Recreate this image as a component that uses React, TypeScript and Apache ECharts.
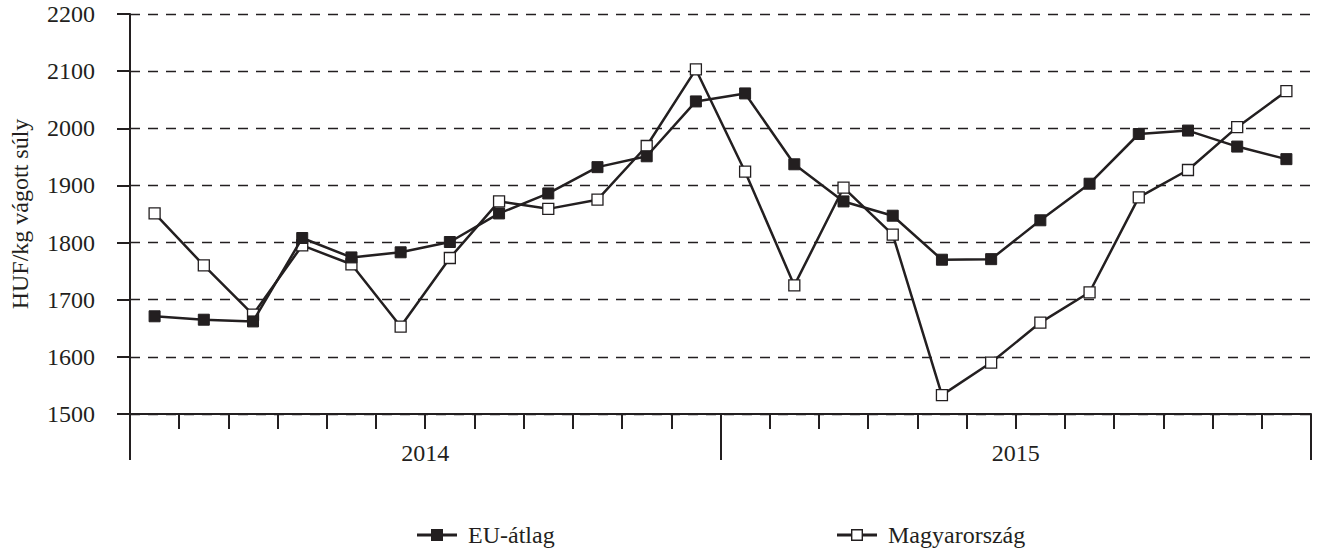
import React, { useEffect, useRef } from "react";
import * as echarts from "echarts";

const months = [
  "2014-01", "2014-02", "2014-03", "2014-04", "2014-05", "2014-06",
  "2014-07", "2014-08", "2014-09", "2014-10", "2014-11", "2014-12",
  "2015-01", "2015-02", "2015-03", "2015-04", "2015-05", "2015-06",
  "2015-07", "2015-08", "2015-09", "2015-10", "2015-11", "2015-12",
];
const years = ["2014", "2015"];
const euAtlag = [
  1671, 1665, 1662, 1808, 1774, 1783, 1801, 1851, 1886, 1932, 1951, 2047,
  2061, 1937, 1872, 1847, 1770, 1771, 1839, 1903, 1990, 1996, 1968, 1946,
];
const magyarorszag = [
  1851, 1760, 1674, 1795, 1762, 1653, 1773, 1872, 1859, 1875, 1969, 2103,
  1924, 1725, 1896, 1814, 1533, 1590, 1660, 1713, 1879, 1927, 2002, 2065,
];

const INK = "#231f20";
const FONT = "'Liberation Serif', 'Times New Roman', serif";
const FS = 24;

const ICON_FILLED =
  "path://M0,4.5L14,4.5L14,0L26,0L26,4.5L40,4.5L40,7.5L26,7.5L26,12L14,12L14,7.5L0,7.5Z";
const ICON_OPEN =
  "path://M0,4.5L14,4.5L14,0L26,0L26,4.5L40,4.5L40,7.5L26,7.5L26,12L14,12L14,7.5L0,7.5Z" +
  "M15.4,1.4L15.4,10.6L24.6,10.6L24.6,1.4Z";

export default function App() {
  const ref = useRef<HTMLDivElement>(null);
  useEffect(() => {
    if (!ref.current) return;
    const chart = echarts.init(ref.current, undefined, { renderer: "svg" });
    const legendText = { fontFamily: FONT, fontSize: FS, color: INK, padding: [0, 0, 0, 6] };
    const legendBase = {
      top: 523,
      padding: 0,
      itemWidth: 40,
      itemHeight: 12,
      itemStyle: { color: INK, borderWidth: 0 },
      textStyle: legendText,
    };
    chart.setOption({
      animation: false,
      backgroundColor: "#fff",
      textStyle: { fontFamily: FONT, color: INK },
      grid: {
        left: 130,
        right: 10,
        top: 14,
        height: 400,
        containLabel: false,
        outerBoundsMode: "none",
      },
      legend: [
        {
          ...legendBase,
          left: 417,
          data: [{ name: "EU-átlag", icon: ICON_FILLED, itemStyle: { color: INK, borderWidth: 0 } }],
        },
        {
          ...legendBase,
          left: 837,
          data: [{ name: "Magyarország", icon: ICON_OPEN, itemStyle: { color: INK, borderWidth: 0 } }],
        },
      ],
      xAxis: [
        {
          type: "category",
          data: months,
          boundaryGap: true,
          axisLine: { show: true, lineStyle: { color: INK, width: 2 } },
          axisTick: { show: true, interval: 0, length: 15, lineStyle: { color: INK, width: 2 } },
          axisLabel: { show: false },
          splitLine: { show: false },
        },
        {
          type: "category",
          data: years,
          position: "bottom",
          boundaryGap: true,
          axisLine: { show: false },
          axisTick: { show: true, interval: 0, length: 46, lineStyle: { color: INK, width: 2 } },
          axisLabel: { show: true, margin: 27, fontSize: FS, fontFamily: FONT, color: INK },
          splitLine: { show: false },
        },
      ],
      yAxis: {
        type: "value",
        min: 1500,
        max: 2200,
        interval: 100,
        name: "HUF/kg vágott súly",
        nameLocation: "middle",
        nameGap: 98,
        nameRotate: 90,
        nameTextStyle: { fontFamily: FONT, fontSize: FS, color: INK },
        axisLine: { show: true, lineStyle: { color: INK, width: 2 } },
        axisTick: { show: true, length: 13, lineStyle: { color: INK, width: 2 } },
        axisLabel: {
          margin: 35,
          fontSize: FS,
          fontFamily: FONT,
          color: INK,
          formatter: (v: number) => String(v),
        },
        splitLine: { show: true, lineStyle: { color: INK, width: 1.3, type: [10, 8] } },
      },
      series: [
        {
          name: "Magyarország",
          type: "line",
          data: magyarorszag,
          xAxisIndex: 0,
          symbol: "rect",
          symbolSize: 11,
          showAllSymbol: true,
          lineStyle: { color: INK, width: 2.5 },
          itemStyle: { color: "#fff", borderColor: INK, borderWidth: 1.3 },
          z: 2,
        },
        {
          name: "EU-átlag",
          type: "line",
          data: euAtlag,
          xAxisIndex: 0,
          symbol: "rect",
          symbolSize: 11,
          showAllSymbol: true,
          lineStyle: { color: INK, width: 2.5 },
          itemStyle: { color: INK, borderColor: INK },
          z: 3,
        },
      ],
    });
    return () => chart.dispose();
  }, []);
  return (
    <div
      ref={ref}
      style={{ position: "absolute", left: 0, top: 0, width: 1321, height: 548 }}
    />
  );
}
